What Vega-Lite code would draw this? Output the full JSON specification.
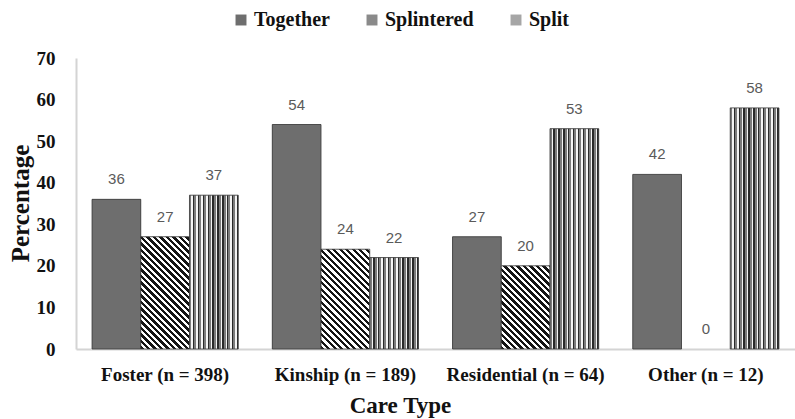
{
  "$schema": "https://vega.github.io/schema/vega-lite/v6.json",
  "width": 719,
  "height": 291,
  "autosize": {"type": "none"},
  "padding": {"left": 76, "top": 58, "right": 0, "bottom": 70},
  "background": "white",
  "config": {
    "view": {"stroke": null},
    "axis": {"grid": false, "ticks": false, "tickSize": 0, "domainColor": "#d4d4d4", "domainWidth": 2, "labelColor": "#111111", "titleColor": "#111111", "labelFont": "Liberation Serif", "titleFont": "Liberation Serif", "labelFontWeight": "bold", "titleFontWeight": "bold"}
  },
  "data": {
    "values": [
      {"care": "Foster  (n = 398)", "series": "Together", "pct": 36},
      {"care": "Foster  (n = 398)", "series": "Splintered", "pct": 27},
      {"care": "Foster  (n = 398)", "series": "Split", "pct": 37},
      {"care": "Kinship (n = 189)", "series": "Together", "pct": 54},
      {"care": "Kinship (n = 189)", "series": "Splintered", "pct": 24},
      {"care": "Kinship (n = 189)", "series": "Split", "pct": 22},
      {"care": "Residential (n = 64)", "series": "Together", "pct": 27},
      {"care": "Residential (n = 64)", "series": "Splintered", "pct": 20},
      {"care": "Residential (n = 64)", "series": "Split", "pct": 53},
      {"care": "Other (n = 12)", "series": "Together", "pct": 42},
      {"care": "Other (n = 12)", "series": "Splintered", "pct": 0},
      {"care": "Other (n = 12)", "series": "Split", "pct": 58}
    ]
  },
  "encoding": {
    "x": {
      "field": "care", "type": "nominal",
      "sort": ["Foster  (n = 398)", "Kinship (n = 189)", "Residential (n = 64)", "Other (n = 12)"],
      "scale": {"paddingInner": 0.189, "paddingOuter": 0.089},
      "axis": {"title": "Care Type", "labelAngle": 0, "labelFontSize": 19, "labelPadding": 16, "titleFontSize": 23, "titleX": 324, "titleAlign": "center", "titleY": 56, "titleBaseline": "middle"}
    },
    "xOffset": {"field": "series", "type": "nominal", "sort": ["Together", "Splintered", "Split"]},
    "y": {
      "field": "pct", "type": "quantitative",
      "scale": {"domain": [0, 70], "nice": false},
      "axis": {"title": "Percentage", "values": [0, 10, 20, 30, 40, 50, 60, 70], "labelFontSize": 19, "labelPadding": 21, "titleFontSize": 25, "titleX": -56, "titleY": 145, "titleAngle": -90, "titleAlign": "center", "titleBaseline": "middle"}
    }
  },
  "layer": [
    {
      "mark": {"type": "bar"},
      "encoding": {
        "color": {
          "field": "series", "type": "nominal", "sort": ["Together", "Splintered", "Split"],
          "scale": {"domain": ["Together", "Splintered", "Split"], "range": ["#6e6e6e", "#8a8a8a", "#a6a6a6"]},
          "legend": {"title": null, "orient": "none", "direction": "horizontal", "legendX": 155, "legendY": -48, "symbolType": "square", "symbolSize": 120, "symbolStrokeWidth": 0, "labelFont": "Liberation Serif", "labelFontWeight": "bold", "labelFontSize": 20, "labelColor": "#111111", "labelOffset": 3, "columnPadding": 32}
        }
      }
    },
    {
      "mark": {"type": "bar", "stroke": "#3a3a3a", "strokeWidth": 0.8},
      "encoding": {
        "strokeOpacity": {"condition": {"test": "datum.pct === 0", "value": 0}, "value": 1},
        "fill": {
          "condition": [
            {"test": "datum.series === 'Split'", "value": {"gradient": "linear", "x1": 0, "y1": 0, "x2": 1, "y2": 0, "stops": [
              {"offset": 0, "color": "#7c7c7c"}, {"offset": 0.04, "color": "#7c7c7c"}, {"offset": 0.04, "color": "#f4f4f4"}, {"offset": 0.07, "color": "#f4f4f4"}, {"offset": 0.07, "color": "#2a2a2a"}, {"offset": 0.1, "color": "#2a2a2a"},
              {"offset": 0.1, "color": "#7c7c7c"}, {"offset": 0.14, "color": "#7c7c7c"}, {"offset": 0.14, "color": "#f4f4f4"}, {"offset": 0.17, "color": "#f4f4f4"}, {"offset": 0.17, "color": "#2a2a2a"}, {"offset": 0.2, "color": "#2a2a2a"},
              {"offset": 0.2, "color": "#7c7c7c"}, {"offset": 0.24, "color": "#7c7c7c"}, {"offset": 0.24, "color": "#f4f4f4"}, {"offset": 0.27, "color": "#f4f4f4"}, {"offset": 0.27, "color": "#2a2a2a"}, {"offset": 0.3, "color": "#2a2a2a"},
              {"offset": 0.3, "color": "#7c7c7c"}, {"offset": 0.34, "color": "#7c7c7c"}, {"offset": 0.34, "color": "#f4f4f4"}, {"offset": 0.37, "color": "#f4f4f4"}, {"offset": 0.37, "color": "#2a2a2a"}, {"offset": 0.4, "color": "#2a2a2a"},
              {"offset": 0.4, "color": "#7c7c7c"}, {"offset": 0.44, "color": "#7c7c7c"}, {"offset": 0.44, "color": "#f4f4f4"}, {"offset": 0.47, "color": "#f4f4f4"}, {"offset": 0.47, "color": "#2a2a2a"}, {"offset": 0.5, "color": "#2a2a2a"},
              {"offset": 0.5, "color": "#7c7c7c"}, {"offset": 0.54, "color": "#7c7c7c"}, {"offset": 0.54, "color": "#f4f4f4"}, {"offset": 0.57, "color": "#f4f4f4"}, {"offset": 0.57, "color": "#2a2a2a"}, {"offset": 0.6, "color": "#2a2a2a"},
              {"offset": 0.6, "color": "#7c7c7c"}, {"offset": 0.64, "color": "#7c7c7c"}, {"offset": 0.64, "color": "#f4f4f4"}, {"offset": 0.67, "color": "#f4f4f4"}, {"offset": 0.67, "color": "#2a2a2a"}, {"offset": 0.7, "color": "#2a2a2a"},
              {"offset": 0.7, "color": "#7c7c7c"}, {"offset": 0.74, "color": "#7c7c7c"}, {"offset": 0.74, "color": "#f4f4f4"}, {"offset": 0.77, "color": "#f4f4f4"}, {"offset": 0.77, "color": "#2a2a2a"}, {"offset": 0.8, "color": "#2a2a2a"},
              {"offset": 0.8, "color": "#7c7c7c"}, {"offset": 0.84, "color": "#7c7c7c"}, {"offset": 0.84, "color": "#f4f4f4"}, {"offset": 0.87, "color": "#f4f4f4"}, {"offset": 0.87, "color": "#2a2a2a"}, {"offset": 0.9, "color": "#2a2a2a"},
              {"offset": 0.9, "color": "#7c7c7c"}, {"offset": 0.94, "color": "#7c7c7c"}, {"offset": 0.94, "color": "#f4f4f4"}, {"offset": 0.97, "color": "#f4f4f4"}, {"offset": 0.97, "color": "#2a2a2a"}, {"offset": 1, "color": "#2a2a2a"}
            ]}},
            {"test": "datum.series === 'Splintered' && datum.care === 'Foster  (n = 398)'", "value": {"gradient": "linear", "x1": 0, "y1": 1, "x2": 0.5287, "y2": -0.2184, "stops": [
              {"offset": 0, "color": "#141414"}, {"offset": 0.02, "color": "#141414"}, {"offset": 0.02, "color": "#ffffff"}, {"offset": 0.04, "color": "#ffffff"},
              {"offset": 0.04, "color": "#141414"}, {"offset": 0.06, "color": "#141414"}, {"offset": 0.06, "color": "#ffffff"}, {"offset": 0.08, "color": "#ffffff"},
              {"offset": 0.08, "color": "#141414"}, {"offset": 0.1, "color": "#141414"}, {"offset": 0.1, "color": "#ffffff"}, {"offset": 0.12, "color": "#ffffff"},
              {"offset": 0.12, "color": "#141414"}, {"offset": 0.14, "color": "#141414"}, {"offset": 0.14, "color": "#ffffff"}, {"offset": 0.16, "color": "#ffffff"},
              {"offset": 0.16, "color": "#141414"}, {"offset": 0.18, "color": "#141414"}, {"offset": 0.18, "color": "#ffffff"}, {"offset": 0.2, "color": "#ffffff"},
              {"offset": 0.2, "color": "#141414"}, {"offset": 0.22, "color": "#141414"}, {"offset": 0.22, "color": "#ffffff"}, {"offset": 0.24, "color": "#ffffff"},
              {"offset": 0.24, "color": "#141414"}, {"offset": 0.26, "color": "#141414"}, {"offset": 0.26, "color": "#ffffff"}, {"offset": 0.28, "color": "#ffffff"},
              {"offset": 0.28, "color": "#141414"}, {"offset": 0.3, "color": "#141414"}, {"offset": 0.3, "color": "#ffffff"}, {"offset": 0.32, "color": "#ffffff"},
              {"offset": 0.32, "color": "#141414"}, {"offset": 0.34, "color": "#141414"}, {"offset": 0.34, "color": "#ffffff"}, {"offset": 0.36, "color": "#ffffff"},
              {"offset": 0.36, "color": "#141414"}, {"offset": 0.38, "color": "#141414"}, {"offset": 0.38, "color": "#ffffff"}, {"offset": 0.4, "color": "#ffffff"},
              {"offset": 0.4, "color": "#141414"}, {"offset": 0.42, "color": "#141414"}, {"offset": 0.42, "color": "#ffffff"}, {"offset": 0.44, "color": "#ffffff"},
              {"offset": 0.44, "color": "#141414"}, {"offset": 0.46, "color": "#141414"}, {"offset": 0.46, "color": "#ffffff"}, {"offset": 0.48, "color": "#ffffff"},
              {"offset": 0.48, "color": "#141414"}, {"offset": 0.5, "color": "#141414"}, {"offset": 0.5, "color": "#ffffff"}, {"offset": 0.52, "color": "#ffffff"},
              {"offset": 0.52, "color": "#141414"}, {"offset": 0.54, "color": "#141414"}, {"offset": 0.54, "color": "#ffffff"}, {"offset": 0.56, "color": "#ffffff"},
              {"offset": 0.56, "color": "#141414"}, {"offset": 0.58, "color": "#141414"}, {"offset": 0.58, "color": "#ffffff"}, {"offset": 0.6, "color": "#ffffff"},
              {"offset": 0.6, "color": "#141414"}, {"offset": 0.62, "color": "#141414"}, {"offset": 0.62, "color": "#ffffff"}, {"offset": 0.64, "color": "#ffffff"},
              {"offset": 0.64, "color": "#141414"}, {"offset": 0.66, "color": "#141414"}, {"offset": 0.66, "color": "#ffffff"}, {"offset": 0.68, "color": "#ffffff"},
              {"offset": 0.68, "color": "#141414"}, {"offset": 0.7, "color": "#141414"}, {"offset": 0.7, "color": "#ffffff"}, {"offset": 0.72, "color": "#ffffff"},
              {"offset": 0.72, "color": "#141414"}, {"offset": 0.74, "color": "#141414"}, {"offset": 0.74, "color": "#ffffff"}, {"offset": 0.76, "color": "#ffffff"},
              {"offset": 0.76, "color": "#141414"}, {"offset": 0.78, "color": "#141414"}, {"offset": 0.78, "color": "#ffffff"}, {"offset": 0.8, "color": "#ffffff"},
              {"offset": 0.8, "color": "#141414"}, {"offset": 0.82, "color": "#141414"}, {"offset": 0.82, "color": "#ffffff"}, {"offset": 0.84, "color": "#ffffff"},
              {"offset": 0.84, "color": "#141414"}, {"offset": 0.86, "color": "#141414"}, {"offset": 0.86, "color": "#ffffff"}, {"offset": 0.88, "color": "#ffffff"},
              {"offset": 0.88, "color": "#141414"}, {"offset": 0.9, "color": "#141414"}, {"offset": 0.9, "color": "#ffffff"}, {"offset": 0.92, "color": "#ffffff"},
              {"offset": 0.92, "color": "#141414"}, {"offset": 0.94, "color": "#141414"}, {"offset": 0.94, "color": "#ffffff"}, {"offset": 0.96, "color": "#ffffff"},
              {"offset": 0.96, "color": "#141414"}, {"offset": 0.98, "color": "#141414"}, {"offset": 0.98, "color": "#ffffff"}, {"offset": 1, "color": "#ffffff"}
            ]}},
            {"test": "datum.series === 'Splintered' && datum.care === 'Kinship (n = 189)'", "value": {"gradient": "linear", "x1": 0, "y1": 1, "x2": 0.642, "y2": -0.3153, "stops": [
              {"offset": 0, "color": "#141414"}, {"offset": 0.02, "color": "#141414"}, {"offset": 0.02, "color": "#ffffff"}, {"offset": 0.04, "color": "#ffffff"},
              {"offset": 0.04, "color": "#141414"}, {"offset": 0.06, "color": "#141414"}, {"offset": 0.06, "color": "#ffffff"}, {"offset": 0.08, "color": "#ffffff"},
              {"offset": 0.08, "color": "#141414"}, {"offset": 0.1, "color": "#141414"}, {"offset": 0.1, "color": "#ffffff"}, {"offset": 0.12, "color": "#ffffff"},
              {"offset": 0.12, "color": "#141414"}, {"offset": 0.14, "color": "#141414"}, {"offset": 0.14, "color": "#ffffff"}, {"offset": 0.16, "color": "#ffffff"},
              {"offset": 0.16, "color": "#141414"}, {"offset": 0.18, "color": "#141414"}, {"offset": 0.18, "color": "#ffffff"}, {"offset": 0.2, "color": "#ffffff"},
              {"offset": 0.2, "color": "#141414"}, {"offset": 0.22, "color": "#141414"}, {"offset": 0.22, "color": "#ffffff"}, {"offset": 0.24, "color": "#ffffff"},
              {"offset": 0.24, "color": "#141414"}, {"offset": 0.26, "color": "#141414"}, {"offset": 0.26, "color": "#ffffff"}, {"offset": 0.28, "color": "#ffffff"},
              {"offset": 0.28, "color": "#141414"}, {"offset": 0.3, "color": "#141414"}, {"offset": 0.3, "color": "#ffffff"}, {"offset": 0.32, "color": "#ffffff"},
              {"offset": 0.32, "color": "#141414"}, {"offset": 0.34, "color": "#141414"}, {"offset": 0.34, "color": "#ffffff"}, {"offset": 0.36, "color": "#ffffff"},
              {"offset": 0.36, "color": "#141414"}, {"offset": 0.38, "color": "#141414"}, {"offset": 0.38, "color": "#ffffff"}, {"offset": 0.4, "color": "#ffffff"},
              {"offset": 0.4, "color": "#141414"}, {"offset": 0.42, "color": "#141414"}, {"offset": 0.42, "color": "#ffffff"}, {"offset": 0.44, "color": "#ffffff"},
              {"offset": 0.44, "color": "#141414"}, {"offset": 0.46, "color": "#141414"}, {"offset": 0.46, "color": "#ffffff"}, {"offset": 0.48, "color": "#ffffff"},
              {"offset": 0.48, "color": "#141414"}, {"offset": 0.5, "color": "#141414"}, {"offset": 0.5, "color": "#ffffff"}, {"offset": 0.52, "color": "#ffffff"},
              {"offset": 0.52, "color": "#141414"}, {"offset": 0.54, "color": "#141414"}, {"offset": 0.54, "color": "#ffffff"}, {"offset": 0.56, "color": "#ffffff"},
              {"offset": 0.56, "color": "#141414"}, {"offset": 0.58, "color": "#141414"}, {"offset": 0.58, "color": "#ffffff"}, {"offset": 0.6, "color": "#ffffff"},
              {"offset": 0.6, "color": "#141414"}, {"offset": 0.62, "color": "#141414"}, {"offset": 0.62, "color": "#ffffff"}, {"offset": 0.64, "color": "#ffffff"},
              {"offset": 0.64, "color": "#141414"}, {"offset": 0.66, "color": "#141414"}, {"offset": 0.66, "color": "#ffffff"}, {"offset": 0.68, "color": "#ffffff"},
              {"offset": 0.68, "color": "#141414"}, {"offset": 0.7, "color": "#141414"}, {"offset": 0.7, "color": "#ffffff"}, {"offset": 0.72, "color": "#ffffff"},
              {"offset": 0.72, "color": "#141414"}, {"offset": 0.74, "color": "#141414"}, {"offset": 0.74, "color": "#ffffff"}, {"offset": 0.76, "color": "#ffffff"},
              {"offset": 0.76, "color": "#141414"}, {"offset": 0.78, "color": "#141414"}, {"offset": 0.78, "color": "#ffffff"}, {"offset": 0.8, "color": "#ffffff"},
              {"offset": 0.8, "color": "#141414"}, {"offset": 0.82, "color": "#141414"}, {"offset": 0.82, "color": "#ffffff"}, {"offset": 0.84, "color": "#ffffff"},
              {"offset": 0.84, "color": "#141414"}, {"offset": 0.86, "color": "#141414"}, {"offset": 0.86, "color": "#ffffff"}, {"offset": 0.88, "color": "#ffffff"},
              {"offset": 0.88, "color": "#141414"}, {"offset": 0.9, "color": "#141414"}, {"offset": 0.9, "color": "#ffffff"}, {"offset": 0.92, "color": "#ffffff"},
              {"offset": 0.92, "color": "#141414"}, {"offset": 0.94, "color": "#141414"}, {"offset": 0.94, "color": "#ffffff"}, {"offset": 0.96, "color": "#ffffff"},
              {"offset": 0.96, "color": "#141414"}, {"offset": 0.98, "color": "#141414"}, {"offset": 0.98, "color": "#ffffff"}, {"offset": 1, "color": "#ffffff"}
            ]}},
            {"test": "datum.series === 'Splintered' && datum.care === 'Residential (n = 64)'", "value": {"gradient": "linear", "x1": 0, "y1": 1, "x2": 0.8524, "y2": -0.4552, "stops": [
              {"offset": 0, "color": "#141414"}, {"offset": 0.02, "color": "#141414"}, {"offset": 0.02, "color": "#ffffff"}, {"offset": 0.04, "color": "#ffffff"},
              {"offset": 0.04, "color": "#141414"}, {"offset": 0.06, "color": "#141414"}, {"offset": 0.06, "color": "#ffffff"}, {"offset": 0.08, "color": "#ffffff"},
              {"offset": 0.08, "color": "#141414"}, {"offset": 0.1, "color": "#141414"}, {"offset": 0.1, "color": "#ffffff"}, {"offset": 0.12, "color": "#ffffff"},
              {"offset": 0.12, "color": "#141414"}, {"offset": 0.14, "color": "#141414"}, {"offset": 0.14, "color": "#ffffff"}, {"offset": 0.16, "color": "#ffffff"},
              {"offset": 0.16, "color": "#141414"}, {"offset": 0.18, "color": "#141414"}, {"offset": 0.18, "color": "#ffffff"}, {"offset": 0.2, "color": "#ffffff"},
              {"offset": 0.2, "color": "#141414"}, {"offset": 0.22, "color": "#141414"}, {"offset": 0.22, "color": "#ffffff"}, {"offset": 0.24, "color": "#ffffff"},
              {"offset": 0.24, "color": "#141414"}, {"offset": 0.26, "color": "#141414"}, {"offset": 0.26, "color": "#ffffff"}, {"offset": 0.28, "color": "#ffffff"},
              {"offset": 0.28, "color": "#141414"}, {"offset": 0.3, "color": "#141414"}, {"offset": 0.3, "color": "#ffffff"}, {"offset": 0.32, "color": "#ffffff"},
              {"offset": 0.32, "color": "#141414"}, {"offset": 0.34, "color": "#141414"}, {"offset": 0.34, "color": "#ffffff"}, {"offset": 0.36, "color": "#ffffff"},
              {"offset": 0.36, "color": "#141414"}, {"offset": 0.38, "color": "#141414"}, {"offset": 0.38, "color": "#ffffff"}, {"offset": 0.4, "color": "#ffffff"},
              {"offset": 0.4, "color": "#141414"}, {"offset": 0.42, "color": "#141414"}, {"offset": 0.42, "color": "#ffffff"}, {"offset": 0.44, "color": "#ffffff"},
              {"offset": 0.44, "color": "#141414"}, {"offset": 0.46, "color": "#141414"}, {"offset": 0.46, "color": "#ffffff"}, {"offset": 0.48, "color": "#ffffff"},
              {"offset": 0.48, "color": "#141414"}, {"offset": 0.5, "color": "#141414"}, {"offset": 0.5, "color": "#ffffff"}, {"offset": 0.52, "color": "#ffffff"},
              {"offset": 0.52, "color": "#141414"}, {"offset": 0.54, "color": "#141414"}, {"offset": 0.54, "color": "#ffffff"}, {"offset": 0.56, "color": "#ffffff"},
              {"offset": 0.56, "color": "#141414"}, {"offset": 0.58, "color": "#141414"}, {"offset": 0.58, "color": "#ffffff"}, {"offset": 0.6, "color": "#ffffff"},
              {"offset": 0.6, "color": "#141414"}, {"offset": 0.62, "color": "#141414"}, {"offset": 0.62, "color": "#ffffff"}, {"offset": 0.64, "color": "#ffffff"},
              {"offset": 0.64, "color": "#141414"}, {"offset": 0.66, "color": "#141414"}, {"offset": 0.66, "color": "#ffffff"}, {"offset": 0.68, "color": "#ffffff"},
              {"offset": 0.68, "color": "#141414"}, {"offset": 0.7, "color": "#141414"}, {"offset": 0.7, "color": "#ffffff"}, {"offset": 0.72, "color": "#ffffff"},
              {"offset": 0.72, "color": "#141414"}, {"offset": 0.74, "color": "#141414"}, {"offset": 0.74, "color": "#ffffff"}, {"offset": 0.76, "color": "#ffffff"},
              {"offset": 0.76, "color": "#141414"}, {"offset": 0.78, "color": "#141414"}, {"offset": 0.78, "color": "#ffffff"}, {"offset": 0.8, "color": "#ffffff"},
              {"offset": 0.8, "color": "#141414"}, {"offset": 0.82, "color": "#141414"}, {"offset": 0.82, "color": "#ffffff"}, {"offset": 0.84, "color": "#ffffff"},
              {"offset": 0.84, "color": "#141414"}, {"offset": 0.86, "color": "#141414"}, {"offset": 0.86, "color": "#ffffff"}, {"offset": 0.88, "color": "#ffffff"},
              {"offset": 0.88, "color": "#141414"}, {"offset": 0.9, "color": "#141414"}, {"offset": 0.9, "color": "#ffffff"}, {"offset": 0.92, "color": "#ffffff"},
              {"offset": 0.92, "color": "#141414"}, {"offset": 0.94, "color": "#141414"}, {"offset": 0.94, "color": "#ffffff"}, {"offset": 0.96, "color": "#ffffff"},
              {"offset": 0.96, "color": "#141414"}, {"offset": 0.98, "color": "#141414"}, {"offset": 0.98, "color": "#ffffff"}, {"offset": 1, "color": "#ffffff"}
            ]}}
          ],
          "value": "#6e6e6e"
        }
      }
    },
    {
      "mark": {"type": "text", "baseline": "middle", "align": "center", "dy": -20, "font": "Liberation Sans", "fontSize": 15, "color": "#5a5a5a"},
      "encoding": {"text": {"field": "pct", "type": "quantitative"}}
    }
  ]
}
